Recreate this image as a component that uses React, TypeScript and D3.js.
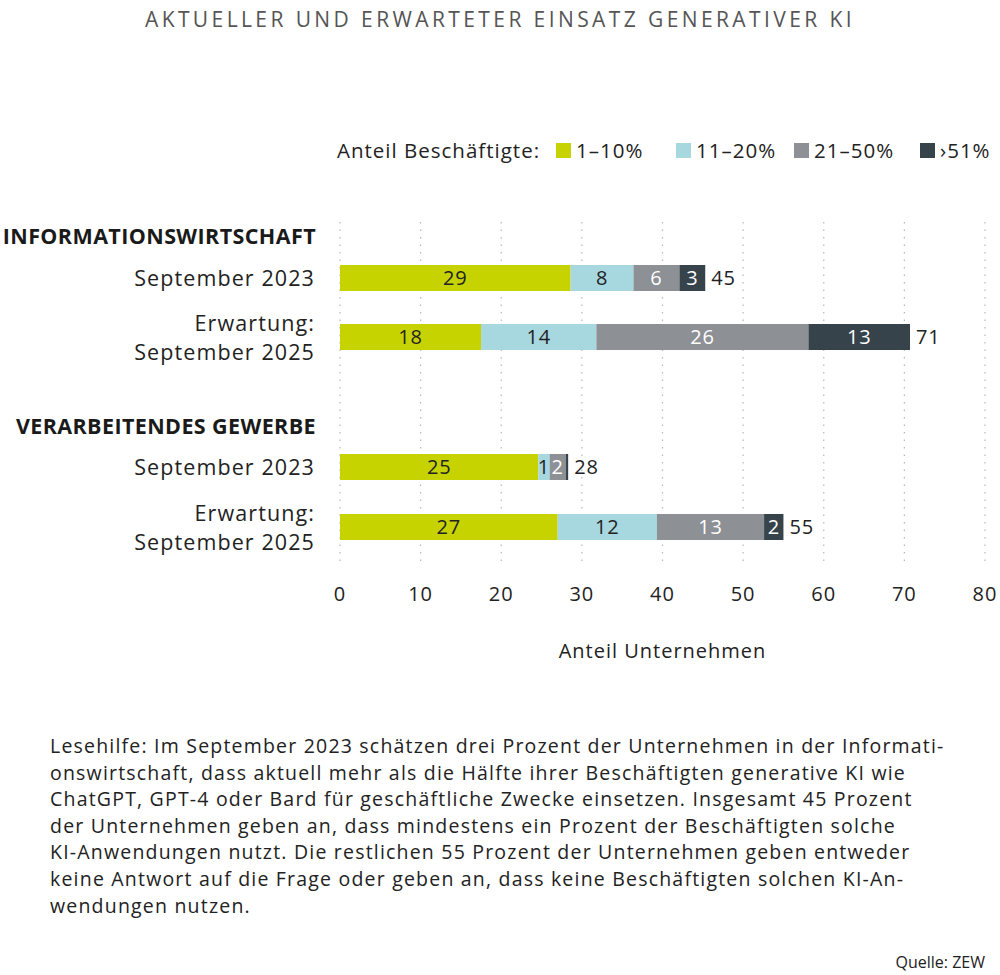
import * as d3 from 'd3';

// Legend / series
const seriesNames = ['1–10%', '11–20%', '21–50%', '›51%'];
const seriesColors = ['#c7d300', '#a7d7df', '#8d9095', '#36434b'];
const seriesTextColors = ['#222', '#222', '#fff', '#fff'];

// Groups and rows
const groups = ['INFORMATIONSWIRTSCHAFT', 'VERARBEITENDES GEWERBE'];
const rowLabels = [
  ['September 2023'],
  ['Erwartung:', 'September 2025'],
  ['September 2023'],
  ['Erwartung:', 'September 2025'],
];

// Values per series (rows in order above)
const share1to10 = [28.6, 17.5, 24.6, 27.0];
const share11to20 = [7.8, 14.3, 1.4, 12.3];
const share21to50 = [5.7, 26.3, 2.0, 13.3];
const shareOver51 = [3.2, 12.6, 0.3, 2.4];
const totals = [45, 71, 28, 55];

const xTicks = [0, 10, 20, 30, 40, 50, 60, 70, 80];

const paragraph = [
  'Lesehilfe: Im September 2023 schätzen drei Prozent der Unternehmen in der Informati-',
  'onswirtschaft, dass aktuell mehr als die Hälfte ihrer Beschäftigten generative KI wie',
  'ChatGPT, GPT-4 oder Bard für geschäftliche Zwecke einsetzen. Insgesamt 45 Prozent',
  'der Unternehmen geben an, dass mindestens ein Prozent der Beschäftigten solche',
  'KI-Anwendungen nutzt. Die restlichen 55 Prozent der Unternehmen geben entweder',
  'keine Antwort auf die Frage oder geben an, dass keine Beschäftigten solchen KI-An-',
  'wendungen nutzen.',
];

const font = '"Open Sans", "Noto Sans", sans-serif';

export default function App() {
  const width = 1000;
  const height = 975;

  const x = d3.scaleLinear().domain([0, 80]).range([340, 985]);
  const rowCenters = [278, 337, 467, 527];
  const barH = 26;

  const table = rowLabels.map((_, i) => ({
    values: [share1to10[i], share11to20[i], share21to50[i], shareOver51[i]],
  }));
  const stack = d3
    .stack<{ values: number[] }, number>()
    .keys([0, 1, 2, 3])
    .value((d, k) => d.values[k]);
  const stacked = stack(table);

  const groupY = [236, 426];
  const legendX = [556, 676, 794, 920];

  return (
    <svg
      width={width}
      height={height}
      style={{ position: 'absolute', left: 0, top: 0, fontFamily: font }}
    >
      <text x={500} y={27} textAnchor="middle" fontSize={21} fill="#555" letterSpacing={3.4}>
        AKTUELLER UND ERWARTETER EINSATZ GENERATIVER KI
      </text>

      {/* Legend */}
      <g fontSize={20.5} fill="#222" letterSpacing={1}>
        <text x={337} y={158}>Anteil Beschäftigte:</text>
        {seriesNames.map((n, i) => (
          <g key={n}>
            <rect x={legendX[i]} y={143} width={15} height={15} fill={seriesColors[i]} />
            <text x={legendX[i] + 20} y={158}>{n}</text>
          </g>
        ))}
      </g>

      {/* Grid */}
      {xTicks.map((t) => (
        <line
          key={t}
          x1={x(t)}
          x2={x(t)}
          y1={222}
          y2={564}
          stroke="#b8b8b8"
          strokeWidth={1.2}
          strokeDasharray="1.5 6"
        />
      ))}

      {/* Group headers */}
      {groups.map((g, i) => (
        <text
          key={g}
          x={316}
          y={groupY[i] + 8}
          textAnchor="end"
          fontSize={21.5}
          fontWeight="bold"
          fill="#1a1a1a"
          letterSpacing={0.4}
        >
          {g}
        </text>
      ))}

      {/* Row labels */}
      {rowLabels.map((lines, i) => (
        <text key={i} textAnchor="end" fontSize={21.5} fill="#222" letterSpacing={1.1}>
          {lines.map((l, j) => (
            <tspan key={j} x={315} y={rowCenters[i] + 8 + (lines.length === 2 ? (j === 0 ? -14 : 15) : 0)}>
              {l}
            </tspan>
          ))}
        </text>
      ))}

      {/* Bars */}
      {stacked.map((layer, k) =>
        layer.map((d, i) => {
          const x0 = x(d[0]);
          const x1 = x(d[1]);
          const v = d[1] - d[0];
          return (
            <g key={`${k}-${i}`}>
              <rect x={x0} y={rowCenters[i] - barH / 2} width={x1 - x0} height={barH} fill={seriesColors[k]} />
              {v >= 1 && (
                <text
                  x={(x0 + x1) / 2}
                  y={rowCenters[i] + 7}
                  textAnchor="middle"
                  fontSize={20}
                  letterSpacing={0.8}
                  fill={seriesTextColors[k]}
                >
                  {Math.round(v)}
                </text>
              )}
            </g>
          );
        })
      )}

      {/* Totals */}
      {totals.map((t, i) => {
        const end = stacked[3][i][1];
        return (
          <text key={i} x={x(end) + 6} y={rowCenters[i] + 7} fontSize={20} letterSpacing={0.8} fill="#222">
            {t}
          </text>
        );
      })}

      {/* X axis labels */}
      {xTicks.map((t) => (
        <text key={t} x={x(t)} y={601} textAnchor="middle" fontSize={20} letterSpacing={1} fill="#222">
          {t}
        </text>
      ))}
      <text x={x(40)} y={658} textAnchor="middle" fontSize={20} letterSpacing={1} fill="#222">
        Anteil Unternehmen
      </text>

      {/* Paragraph */}
      {paragraph.map((l, i) => (
        <text key={i} x={50} y={753 + i * 26.6} fontSize={19.5} letterSpacing={1.2} fill="#222">
          {l}
        </text>
      ))}
      <text x={985} y={968} textAnchor="end" fontSize={16} fill="#222">
        Quelle: ZEW
      </text>
    </svg>
  );
}
